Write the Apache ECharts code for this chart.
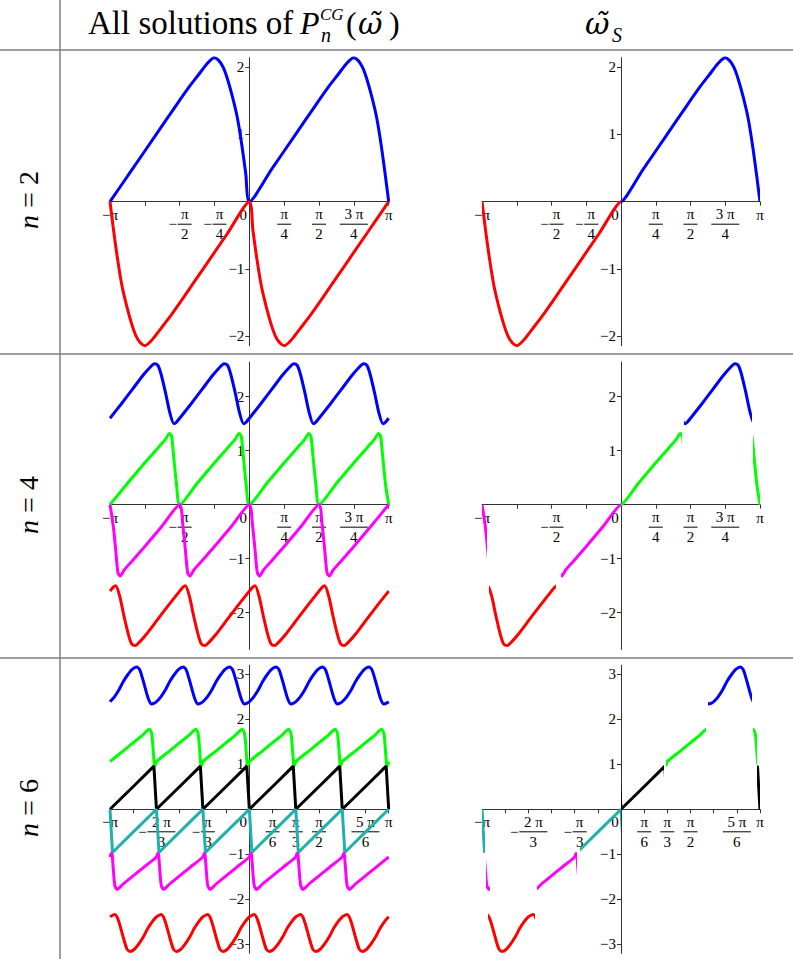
<!DOCTYPE html>
<html>
<head>
<meta charset="utf-8">
<title>All solutions of P_n^CG and the selected branch</title>
<script src="https://cdn.jsdelivr.net/npm/echarts@6/dist/echarts.min.js"></script>
<style>
  html, body { margin: 0; padding: 0; background: #fff; }
  #chart { width: 793px; height: 959px; }
</style>
</head>
<body>
<div id="chart"></div>
<script>
const PI = Math.PI;

// n = 2, period pi
const n2Period = PI;
const n2BlueDx = [0, 0.5, 1.0, 1.5, 1.8, 2.0, 2.15, 2.26, 2.35, 2.45, 2.55, 2.65, 2.76, 2.87, 2.97, 3.06, 3.1416];
const n2BlueY  = [0, 0.48, 0.96, 1.44, 1.72, 1.89, 2.02, 2.10, 2.14, 2.10, 2.00, 1.82, 1.56, 1.25, 0.85, 0.42, 0];
const n2RedDx  = [0, 0.08, 0.17, 0.27, 0.38, 0.49, 0.59, 0.69, 0.79, 0.88, 0.99, 1.14, 1.34, 1.64, 2.14, 2.64, 3.1416];
const n2RedY   = [0, -0.42, -0.85, -1.25, -1.56, -1.82, -2.00, -2.10, -2.14, -2.10, -2.02, -1.89, -1.72, -1.44, -0.96, -0.48, 0];

// n = 4, period pi/2
const n4Period = PI / 2;
const n4BlueDx    = [0, 0.25, 0.5, 0.75, 0.9, 1.0, 1.08, 1.15, 1.25, 1.35, 1.44, 1.5, 1.5708];
const n4BlueY     = [1.60, 1.86, 2.13, 2.40, 2.54, 2.61, 2.58, 2.42, 2.08, 1.70, 1.50, 1.53, 1.60];
const n4GreenDx   = [0, 0.4, 0.8, 1.1, 1.25, 1.34, 1.39, 1.44, 1.5, 1.5708];
const n4GreenY    = [0, 0.40, 0.79, 1.07, 1.21, 1.32, 1.26, 0.85, 0.37, 0];
const n4MagentaDx = [0, 0.07, 0.13, 0.18, 0.23, 0.32, 0.47, 0.77, 1.17, 1.5708];
const n4MagentaY  = [0, -0.37, -0.85, -1.26, -1.32, -1.21, -1.07, -0.79, -0.40, 0];
const n4RedDx     = [0, 0.07, 0.13, 0.22, 0.32, 0.42, 0.49, 0.57, 0.67, 0.82, 1.07, 1.32, 1.5708];
const n4RedY      = [-1.60, -1.53, -1.50, -1.70, -2.08, -2.42, -2.58, -2.61, -2.54, -2.40, -2.13, -1.86, -1.60];

// n = 6, period pi/3
const n6Period = PI / 3;
const n6BlueDx    = [0, 0.1, 0.2, 0.3, 0.4, 0.5, 0.6, 0.67, 0.75, 0.86, 0.94, 1.0, 1.0472];
const n6BlueY     = [2.39, 2.50, 2.65, 2.84, 2.99, 3.11, 3.16, 3.10, 2.85, 2.47, 2.34, 2.36, 2.39];
const n6GreenDx   = [0, 0.3, 0.6, 0.75, 0.83, 0.89, 0.94, 0.975, 1.0, 1.02, 1.0472];
const n6GreenY    = [1.06, 1.30, 1.54, 1.66, 1.74, 1.78, 1.68, 1.30, 1.00, 0.98, 1.06];
const n6BlackDx   = [0, 0.3, 0.6, 0.9, 0.99, 1.0472];
const n6BlackY    = [0, 0.29, 0.58, 0.87, 0.96, 0];
const n6CyanDx    = [0, 0.057, 0.147, 0.447, 0.747, 1.0472];
const n6CyanY     = [0, -0.96, -0.87, -0.58, -0.29, 0];
const n6MagentaDx = [0, 0.027, 0.047, 0.072, 0.107, 0.157, 0.217, 0.297, 0.447, 0.747, 1.0472];
const n6MagentaY  = [-1.06, -0.98, -1.00, -1.30, -1.68, -1.78, -1.74, -1.66, -1.54, -1.30, -1.06];
const n6RedDx     = [0, 0.05, 0.11, 0.19, 0.30, 0.38, 0.45, 0.55, 0.65, 0.75, 0.85, 0.95, 1.0472];
const n6RedY      = [-2.39, -2.36, -2.34, -2.47, -2.85, -3.10, -3.16, -3.11, -2.99, -2.84, -2.65, -2.50, -2.39];

// pieces of the branches that make up omega_S (right column): [branch, from, to]
const n2Pick = [['red', -3.1416, 0], ['blue', 0, 3.1416]];
const n4Pick = [['magenta', -3.1416, -3.03], ['red', -2.99, -1.46], ['magenta', -1.36, 0],
                ['green', 0, 1.38], ['blue', 1.42, 2.95], ['green', 2.99, 3.1416]];
const n6Pick = [['cyan', -3.1416, -3.07], ['magenta', -3.04, -2.95], ['red', -3.0, -1.95],
                ['magenta', -1.90, -1.0], ['cyan', -0.93, 0], ['black', 0, 0.975],
                ['green', 1.01, 1.93], ['blue', 1.96, 2.96], ['green', 2.99, 3.07], ['black', 3.08, 3.1416]];

// x ticks in units of pi/4 (n = 2, 4) and pi/6 (n = 6)
const quarterTicks = [-4, -3, -2, -1, 0, 1, 2, 3, 4];
const sixthTicks = [-6, -5, -4, -3, -2, -1, 0, 1, 2, 3, 4, 5, 6];
const n2LabelAt = [-4, -2, -1, 0, 1, 2, 3, 4];
const n2LabelText = ['−π', '−π/2', '−π/4', '0', 'π/4', 'π/2', '3 π/4', 'π'];
const n4LabelAt = [-4, -2, 0, 1, 2, 3, 4];
const n4LabelText = ['−π', '−π/2', '0', 'π/4', 'π/2', '3 π/4', 'π'];
const n6LabelAt = [-6, -4, -2, 0, 1, 2, 3, 5, 6];
const n6LabelText = ['−π', '−2 π/3', '−π/3', '0', 'π/6', 'π/3', 'π/2', '5 π/6', 'π'];

const n2YTicks = [-2, -1, 1, 2];
const n4YTicks = [-2, -1, 1, 2];
const n6YTicks = [-3, -2, -1, 1, 2, 3];

const colors = {
  blue: '#0000ff', red: '#ff0000', green: '#00ff00',
  magenta: '#ff00ff', black: '#000000', cyan: '#20b2aa'
};
// same hues, fully transparent: used where a branch is not part of omega_S
const hidden = {
  blue: 'rgba(0,0,255,0)', red: 'rgba(255,0,0,0)', green: 'rgba(0,255,0,0)',
  magenta: 'rgba(255,0,255,0)', black: 'rgba(0,0,0,0)', cyan: 'rgba(32,178,170,0)'
};
// the straight saw-tooth branches keep their sharp corners
const smoothOf = { blue: 0.25, red: 0.25, green: 0.25, magenta: 0.25, black: 0, cyan: 0 };

// repeat one read period across [-pi, pi]
function tile(dx, y, period) {
  const pts = [];
  const count = Math.round(2 * PI / period);
  for (let k = 0; k < count; k++) {
    for (let i = 0; i < dx.length; i++) {
      if (k > 0 && i === 0) continue;
      pts.push([-PI + k * period + dx[i], y[i]]);
    }
  }
  return pts;
}

const rows = [
  {
    period: n2Period,
    branches: { blue: [n2BlueDx, n2BlueY], red: [n2RedDx, n2RedY] },
    order: ['blue', 'red'],
    pick: n2Pick, step: PI / 4, ticks: quarterTicks, labelAt: n2LabelAt, labelText: n2LabelText,
    yTicks: n2YTicks, ymin: -2.14, ymax: 2.14, top: 57.7, height: 288
  },
  {
    period: n4Period,
    branches: { blue: [n4BlueDx, n4BlueY], green: [n4GreenDx, n4GreenY],
                magenta: [n4MagentaDx, n4MagentaY], red: [n4RedDx, n4RedY] },
    order: ['blue', 'green', 'magenta', 'red'],
    pick: n4Pick, step: PI / 4, ticks: quarterTicks, labelAt: n4LabelAt, labelText: n4LabelText,
    yTicks: n4YTicks, ymin: -2.68, ymax: 2.64, top: 362.1, height: 287.3
  },
  {
    period: n6Period,
    branches: { blue: [n6BlueDx, n6BlueY], green: [n6GreenDx, n6GreenY], black: [n6BlackDx, n6BlackY],
                cyan: [n6CyanDx, n6CyanY], magenta: [n6MagentaDx, n6MagentaY], red: [n6RedDx, n6RedY] },
    order: ['blue', 'green', 'black', 'cyan', 'magenta', 'red'],
    pick: n6Pick, step: PI / 6, ticks: sixthTicks, labelAt: n6LabelAt, labelText: n6LabelText,
    yTicks: n6YTicks, ymin: -3.2, ymax: 3.2, top: 665.3, height: 288
  }
];

const cols = [{ left: 110, width: 278.7 }, { left: 482, width: 278 }];

const FONT = 'Liberation Serif';
const richX = {
  t: { fontSize: 15, lineHeight: 16, fontFamily: FONT, color: '#000' },
  zero: { fontSize: 15, lineHeight: 16, fontFamily: FONT, color: '#000', padding: [0, 12, 0, 0] },
  pNum: { fontSize: 15, lineHeight: 15, fontFamily: FONT, color: '#000', width: 14, align: 'center' },
  pDen: { fontSize: 15, lineHeight: 15, fontFamily: FONT, color: '#000', width: 14, align: 'center' },
  nNum: { fontSize: 15, lineHeight: 15, fontFamily: FONT, color: '#000', width: 14, align: 'center', padding: [0, 0, 0, 10] },
  nDen: { fontSize: 15, lineHeight: 15, fontFamily: FONT, color: '#000', width: 14, align: 'center', padding: [0, 0, 0, 10] },
  pNumW: { fontSize: 15, lineHeight: 15, fontFamily: FONT, color: '#000', width: 28, align: 'center' },
  pDenW: { fontSize: 15, lineHeight: 15, fontFamily: FONT, color: '#000', width: 28, align: 'center' },
  nNumW: { fontSize: 15, lineHeight: 15, fontFamily: FONT, color: '#000', width: 28, align: 'center', padding: [0, 0, 0, 10] },
  nDenW: { fontSize: 15, lineHeight: 15, fontFamily: FONT, color: '#000', width: 28, align: 'center', padding: [0, 0, 0, 10] },
  minus: { fontSize: 15, lineHeight: 5, fontFamily: FONT, color: '#000', width: 10 },
  bar: { width: 14, height: 1, lineHeight: 5, backgroundColor: '#000' },
  barW: { width: 28, height: 1, lineHeight: 5, backgroundColor: '#000' }
};

function richLabel(t) {
  if (t === '0') return '{zero|0}';
  const neg = t[0] === '−';
  const body = neg ? t.slice(1) : t;
  if (body.indexOf('/') < 0) return '{t|' + t + '}';
  const parts = body.split('/');
  const w = parts[0].length > 1 ? 'W' : '';
  const p = neg ? 'n' : 'p';
  return '{' + p + 'Num' + w + '|' + parts[0] + '}\n' +
    (neg ? '{minus|−}' : '') + '{bar' + w + '| }\n' +
    '{' + p + 'Den' + w + '|' + parts[1] + '}';
}

const grid = [], xAxis = [], yAxis = [], series = [], visualMap = [];

rows.forEach(function (row) {
  const curves = {};
  row.order.forEach(function (name) {
    curves[name] = tile(row.branches[name][0], row.branches[name][1], row.period);
  });
  // the axes cross at the origin: shift them from the grid edges into place
  const xOffset = -row.height * (0 - row.ymin) / (row.ymax - row.ymin);
  cols.forEach(function (col, c) {
    const gi = grid.length;
    grid.push({ left: col.left, width: col.width, top: row.top, height: row.height });
    xAxis.push({
      type: 'value', gridIndex: gi, min: -PI, max: PI, position: 'bottom', offset: xOffset,
      axisLine: { onZero: false, lineStyle: { color: '#333', width: 1 } },
      axisTick: { length: 4, lineStyle: { color: '#333' }, customValues: row.ticks.map(k => k * row.step) },
      splitLine: { show: false },
      axisLabel: {
        margin: 5, hideOverlap: false,
        customValues: row.labelAt.map(k => k * row.step),
        formatter: function (v) {
          const k = Math.round(v / row.step);
          const i = row.labelAt.indexOf(k);
          return i < 0 ? '' : richLabel(row.labelText[i]);
        },
        rich: richX
      }
    });
    yAxis.push({
      type: 'value', gridIndex: gi, min: row.ymin, max: row.ymax, position: 'left', offset: -col.width / 2,
      axisLine: { onZero: false, lineStyle: { color: '#333', width: 1 } },
      axisTick: { length: 4, lineStyle: { color: '#333' }, customValues: row.yTicks },
      splitLine: { show: false },
      axisLabel: {
        margin: 5, fontSize: 15, fontFamily: FONT, color: '#000', hideOverlap: false,
        customValues: row.yTicks,
        formatter: v => String(Math.round(v)).replace('-', '−')
      }
    });
    if (c === 0) {
      row.order.forEach(function (name) {
        series.push({
          type: 'line', xAxisIndex: gi, yAxisIndex: gi, data: curves[name],
          showSymbol: false, smooth: smoothOf[name],
          lineStyle: { color: colors[name], width: 3 }, silent: true
        });
      });
    } else {
      row.order.forEach(function (name) {
        const ranges = row.pick.filter(p => p[0] === name);
        if (!ranges.length) return;
        const idx = series.length;
        series.push({
          type: 'line', xAxisIndex: gi, yAxisIndex: gi, data: curves[name],
          showSymbol: false, smooth: smoothOf[name],
          lineStyle: { width: 3 }, silent: true
        });
        visualMap.push({
          type: 'piecewise', show: false, seriesIndex: idx, dimension: 0,
          pieces: ranges.map(p => ({ gte: p[1], lte: p[2], color: colors[name] })),
          outOfRange: { color: hidden[name] }
        });
      });
    }
  });
});

const ruleStyle = { stroke: '#7f7f7f', lineWidth: 1.5 };
const hFont = '"Liberation Serif"';
const graphic = [
  { type: 'line', shape: { x1: 60, y1: 0, x2: 60, y2: 959 }, style: ruleStyle },
  { type: 'line', shape: { x1: 0, y1: 50, x2: 793, y2: 50 }, style: ruleStyle },
  { type: 'line', shape: { x1: 0, y1: 354, x2: 793, y2: 354 }, style: ruleStyle },
  { type: 'line', shape: { x1: 0, y1: 658, x2: 793, y2: 658 }, style: ruleStyle },
  { type: 'text', x: 88, y: 23, style: { text: 'All solutions of', font: '33px ' + hFont, fill: '#000', verticalAlign: 'middle' } },
  { type: 'text', x: 300, y: 23, style: { text: 'P', font: 'italic 32px ' + hFont, fill: '#000', verticalAlign: 'middle' } },
  { type: 'text', x: 320, y: 14, style: { text: 'CG', font: 'italic 17px ' + hFont, fill: '#000', verticalAlign: 'middle' } },
  { type: 'text', x: 321, y: 35, style: { text: 'n', font: 'italic 20px ' + hFont, fill: '#000', verticalAlign: 'middle' } },
  { type: 'text', x: 346, y: 23, style: { text: '(', font: '32px ' + hFont, fill: '#000', verticalAlign: 'middle' } },
  { type: 'text', x: 358, y: 23, style: { text: 'ω̃', font: 'italic 30px "DejaVu Serif"', fill: '#000', verticalAlign: 'middle' } },
  { type: 'text', x: 389, y: 23, style: { text: ')', font: '32px ' + hFont, fill: '#000', verticalAlign: 'middle' } },
  { type: 'text', x: 585, y: 23, style: { text: 'ω̃', font: 'italic 30px "DejaVu Serif"', fill: '#000', verticalAlign: 'middle' } },
  { type: 'text', x: 612, y: 35, style: { text: 'S', font: 'italic 20px ' + hFont, fill: '#000', verticalAlign: 'middle' } }
];
[['2', 200], ['4', 505], ['6', 808]].forEach(function (lab) {
  graphic.push({
    type: 'text', x: 28, y: lab[1], rotation: PI / 2,
    style: {
      text: '{i|n} = ' + lab[0], font: '28px ' + hFont, fill: '#000',
      align: 'center', verticalAlign: 'middle',
      rich: { i: { fontStyle: 'italic', fontSize: 28, fontFamily: FONT } }
    }
  });
});

const chart = echarts.init(document.getElementById('chart'), null, { renderer: 'svg' });
chart.setOption({
  backgroundColor: '#fff',
  animation: false,
  grid: grid,
  xAxis: xAxis,
  yAxis: yAxis,
  visualMap: visualMap,
  series: series,
  graphic: graphic
});
</script>
</body>
</html>
